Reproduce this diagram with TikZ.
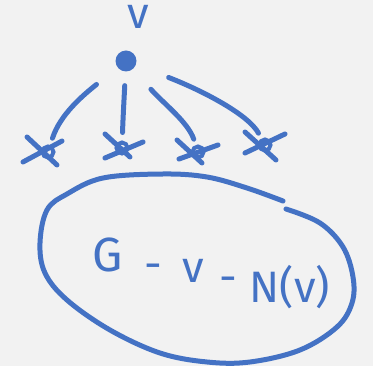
\documentclass[tikz,border=0pt]{standalone}
\usepackage{fontspec}
\setmainfont{Fira Sans}
\definecolor{penc}{HTML}{4472C4}
\definecolor{paper}{HTML}{F2F2F2}
\begin{document}
\begin{tikzpicture}[x=1pt,y=-1pt,
  pen/.style={draw=penc, line width=5pt, line cap=round, line join=round},
  nbr/.style={circle, draw=penc, line width=4pt, minimum size=11pt, inner sep=0pt},
  handtext/.style={text=penc, inner sep=0pt, anchor=base, font=\fontsize{44}{48}\selectfont}]
\fill[paper] (0,0) rectangle (373,366);
\useasboundingbox (0,0) rectangle (373,366);

% vertex v and its label
\node[handtext] (lab) at (138,29) {v};
\node[circle, fill=penc, minimum size=21pt, inner sep=0pt] (v) at (126,61) {};

% crossed-out neighbours
\node[nbr] (n1) at (48,152) {};
\node[nbr] (n2) at (122,148) {};
\node[nbr] (n3) at (198,152) {};
\node[nbr] (n4) at (265,145) {};

\draw[pen] ([shift={(-21,-15)}]n1.center) -- ([shift={(9,13)}]n1.center);
\draw[pen] ([shift={(-25,10)}]n1.center) -- ([shift={(14,-11)}]n1.center);
\draw[pen] ([shift={(-17,-14)}]n2.center) -- ([shift={(8,9)}]n2.center);
\draw[pen] ([shift={(-17,10)}]n2.center) -- ([shift={(21,-6)}]n2.center);
\draw[pen] ([shift={(-21,-12)}]n3.center) -- ([shift={(4,11)}]n3.center);
\draw[pen] ([shift={(-19,7)}]n3.center) -- ([shift={(20,-7)}]n3.center);
\draw[pen] ([shift={(-20,-13)}]n4.center) -- ([shift={(11,15)}]n4.center);
\draw[pen] ([shift={(-20,8)}]n4.center) -- ([shift={(20,-11)}]n4.center);

% edges from v
\draw[pen, shorten <=27pt, shorten >=7pt] (v) .. controls (82,96) and (60,115) .. (n1);
\draw[pen, shorten <=14pt, shorten >=8pt] (v) .. controls (124,100) and (123,118) .. (n2);
\draw[pen, shorten <=27pt, shorten >=6pt] (v) .. controls (163,103) and (188,122) .. (n3);
\draw[pen, shorten <=35pt, shorten >=6pt] (v) .. controls (201,90) and (248,114) .. (n4);

% the rest of the graph
\draw[pen] plot[smooth, tension=0.6] coordinates {
  (286,209) (320,223) (343,247) (353,277) (352,303) (337,327) (300,350)
  (250,362) (207,362) (160,353) (110,330) (67,300) (45,273) (40,243)
  (47,210) (67,194) (103,178) (163,174) (207,177) (247,188) (283,201)};
\node[handtext, font=\fontsize{48}{52}\selectfont] (g) at (108,272) {G};
\node[handtext] (m1) at (153,280) {-};
\node[handtext] (gv) at (193,283) {v};
\node[handtext] (m2) at (228,293) {-};
\node[handtext] (nv) at (290,303) {N(v)};
\end{tikzpicture}
\end{document}
